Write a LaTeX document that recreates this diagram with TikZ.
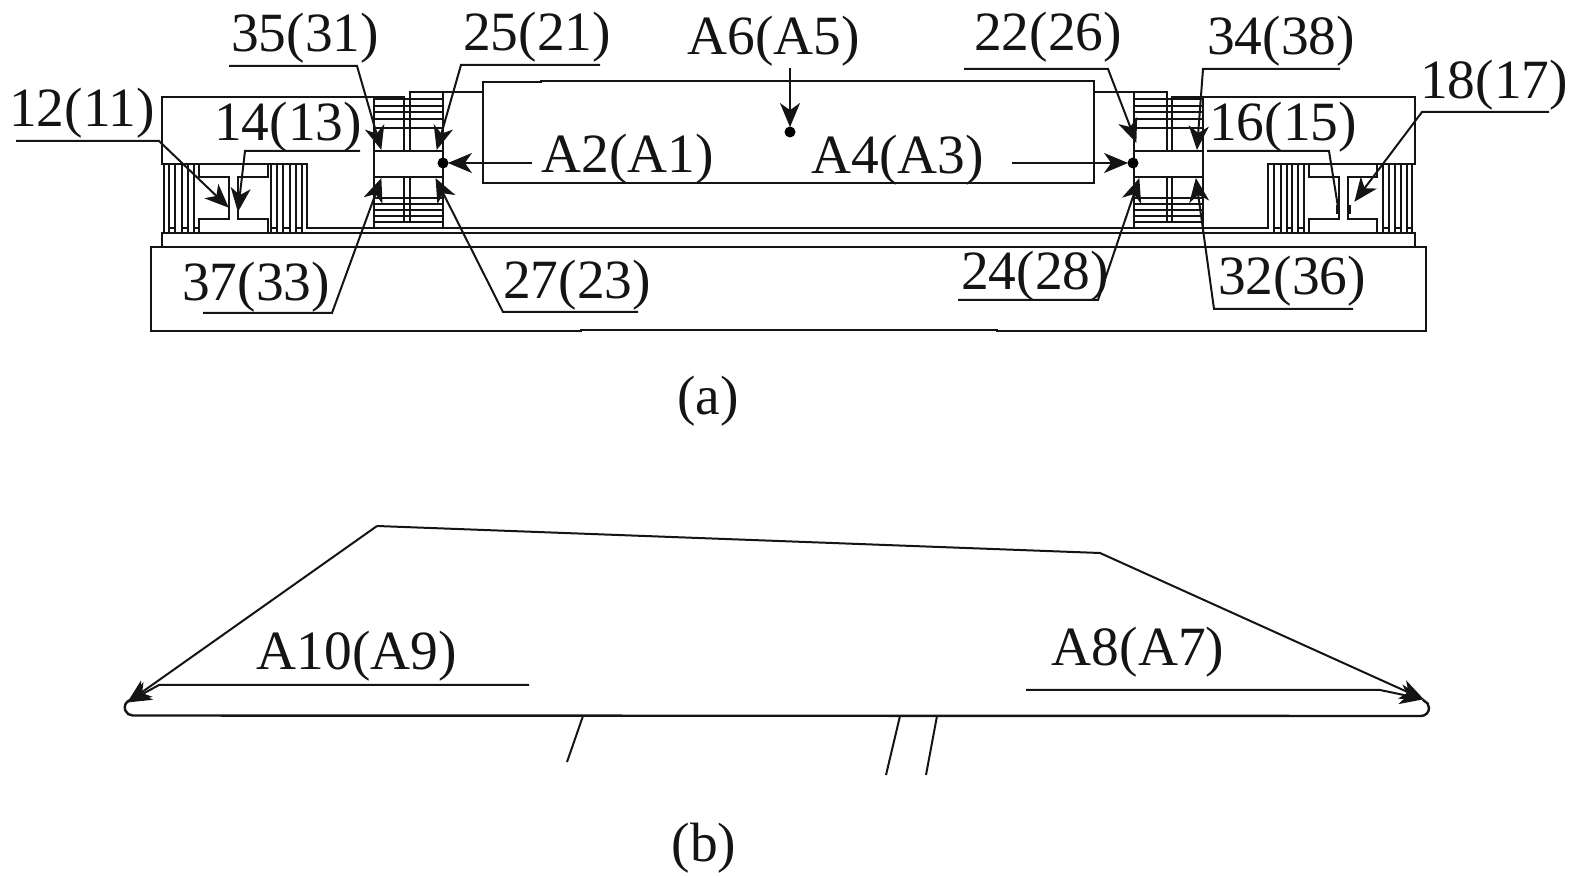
\documentclass[tikz,border=0pt]{standalone}
\usepackage{fontspec}
\setmainfont{Liberation Serif}
\usetikzlibrary{arrows.meta}
\tikzset{
  part/.style={line width=1.2pt, line cap=rect},
  leader/.style={line width=1pt, -{Stealth[length=12pt,width=10pt,inset=3.5pt]}, shorten >=-0.5pt},
  lead/.style={line width=1pt},
  lab/.style={font=\fontsize{27.7}{30}\selectfont, inner sep=0pt},
  dotmark/.style={circle, fill=black, inner sep=0pt, minimum size=5.5pt},
}
\begin{document}
\begin{tikzpicture}[x=0.5pt, y=-0.5pt, color=black!92]
  \useasboundingbox (0,0) rectangle (1575,876);

  % Base and bottom plate
  \draw[part] (151,247) -- (1426,247) -- (1426,331) -- (997,331) -- (997,330) -- (581,330) -- (581,331) -- (151,331) -- cycle;
  \draw[part] (162,247) -- (162,233) -- (1415,233) -- (1415,247);
  \draw[part] (307,228) -- (1268,228);

  % Upper plates and mover
  \draw[part] (404,97) -- (162,97) -- (162,164) -- (307,164);
  \draw[part] (1172,97) -- (1415,97) -- (1415,164) -- (1268,164);
  \draw[part] (410,92) -- (483,92);
  \draw[part] (1094,92) -- (1134,92);
  \draw[part] (483,82) -- (541,82) -- (541,81) -- (1094,81) -- (1094,183) -- (483,183) -- cycle;

  % Comb fingers, left and right
  \foreach \x in {164,169,175,182,188,194,271,277,283,290,296,302} {
    \draw[part] (\x,164) -- (\x,232);
  }
  \draw[part] (199,164) -- (199,177) (199,219) -- (199,232);
  \draw[part] (268,164) -- (268,177) (268,219) -- (268,232) (307,164) -- (307,228);
  \foreach \x in {1274,1281,1287,1292,1298,1304,1383,1389,1395,1401,1407,1412} {
    \draw[part] (\x,164) -- (\x,232);
  }
  \draw[part] (1309,164) -- (1309,177) (1309,219) -- (1309,232);
  \draw[part] (1268,164) -- (1268,228) (1377,164) -- (1377,177) (1377,219) -- (1377,232);
  \foreach \x/\y in {169/175,182/188,194/199,271/277,283/290,296/302,1274/1281,1287/1292,1298/1304,1383/1389,1395/1401,1407/1412} {
    \draw[part] (\x,228) -- (\y,228);
  }

  % I-shaped anchors
  \draw[part] (199,177) -- (229,177) -- (229,219) -- (199,219);
  \draw[part] (268,177) -- (238,177) -- (238,219) -- (268,219);
  \draw[part] (1309,177) -- (1339,177) -- (1339,219) -- (1309,219);
  \draw[part] (1377,177) -- (1348,177) -- (1348,219) -- (1377,219);
  \draw[line width=2.2pt] (1338,205) -- (1338,214) (1349,205) -- (1349,214);

  % Left stack
  \draw[part] (374,97) -- (374,228) (443,92) -- (443,228);
  \draw[part] (374,151) rectangle (443,177);
  \foreach \y in {99,106,112,119,128,198,204,210,216,222} {
    \draw[part] (374,\y) -- (443,\y);
  }
  \draw[part] (404,97) -- (404,151) (410,92) -- (410,151) (404,177) -- (404,222) (410,177) -- (410,222);

  % Right stack
  \draw[part] (1134,92) -- (1134,228) (1203,97) -- (1203,233);
  \draw[part] (1134,151) rectangle (1203,177);
  \foreach \y in {99,106,112,119,128,198,204,210,216,222} {
    \draw[part] (1134,\y) -- (1203,\y);
  }
  \draw[part] (1134,92) -- (1167,92) -- (1167,151) (1172,97) -- (1172,151) (1167,177) -- (1167,222) (1172,177) -- (1172,222);

  % Labels of (a)
  \node[lab] (n35) at (305,38) {35(31)};
  \node[lab] (n25) at (537,37) {25(21)};
  \node[lab] (n12) at (82,113) {12(11)};
  \node[lab] (n14) at (288,127) {14(13)};
  \node[lab] (n37) at (256,287) {37(33)};
  \node[lab] (n27) at (577,285) {27(23)};
  \node[lab] (n22) at (1048,37) {22(26)};
  \node[lab] (n34) at (1281,41) {34(38)};
  \node[lab] (n18) at (1494,85) {18(17)};
  \node[lab] (n16) at (1283,127) {16(15)};
  \node[lab] (n32) at (1292,281) {32(36)};
  \node[lab] (n24) at (1035,276) {24(28)};
  \node[lab] (nA2) at (628,159) {A2(A1)};
  \node[lab] (nA4) at (898,160) {A4(A3)};
  \node[lab] (nA6) at (774,41) {A6(A5)};
  \node[lab] (fa) at (708,401) {(a)};
  \node[lab] (fb) at (704,848) {(b)};

  % Dots
  \node[dotmark] (d2) at (443,163) {};
  \node[dotmark] (d4) at (1133,163) {};
  \node[dotmark] (d6) at (790,132) {};
  \coordinate (s2) at (532,163);
  \coordinate (s4) at (1012,163);
  \coordinate (s6) at (790,68);
  \draw[leader] (s2) -- (d2);
  \draw[leader] (s4) -- (d4);
  \draw[leader] (s6) -- (d6);

  % Leaders of (a)
  \coordinate (a35) at (229,66);   \coordinate (b35) at (357,66);   \coordinate (c35) at (381,149);
  \coordinate (a25) at (600,65);   \coordinate (b25) at (461,65);   \coordinate (c25) at (437,149);
  \coordinate (a12) at (16,141);   \coordinate (b12) at (159,141);  \coordinate (c12) at (228,207);
  \coordinate (a14) at (360,151);  \coordinate (b14) at (245,151);  \coordinate (c14) at (238,211);
  \coordinate (a37) at (203,313);  \coordinate (b37) at (332,313);  \coordinate (c37) at (381,179);
  \coordinate (a27) at (638,312);  \coordinate (b27) at (503,312);  \coordinate (c27) at (436,179);
  \coordinate (a22) at (964,69);   \coordinate (b22) at (1108,69);  \coordinate (c22) at (1136,142);
  \coordinate (a34) at (1340,69);  \coordinate (b34) at (1203,69);  \coordinate (c34) at (1197,149);
  \coordinate (a18) at (1549,112); \coordinate (b18) at (1422,112); \coordinate (c18) at (1355,201);
  \coordinate (a32) at (1353,309); \coordinate (b32) at (1214,309); \coordinate (c32) at (1196,179);
  \coordinate (a24) at (958,300);  \coordinate (b24) at (1098,300); \coordinate (c24) at (1139,179);
  \foreach \k in {35,25,12,14,37,27,22,34,18,32,24} {
    \draw[leader] (a\k) -- (b\k) -- (c\k);
  }
  \coordinate (a16) at (1207,151); \coordinate (b16) at (1329,151); \coordinate (c16) at (1338,207);
  \draw[lead] (a16) -- (b16) -- (c16);

  % Part (b)
  \node[lab] (nA10) at (357,656) {A10(A9)};
  \node[lab] (nA8) at (1138,652) {A8(A7)};
  \coordinate (bl) at (133,716);
  \coordinate (br) at (1421,716);
  \draw[part] (130,700) arc (250:90:8) -- (br) arc (90:-70:8);
  \coordinate (tl) at (128,702);
  \coordinate (p1) at (377,526);
  \coordinate (p2) at (1100,553);
  \coordinate (tr) at (1423,699);
  \draw[leader] (p1) -- (tl);
  \draw[leader] (p1) -- (p2) -- (tr);
  \coordinate (a10) at (529,685);  \coordinate (b10) at (159,685);
  \draw[leader] (a10) -- (b10) -- (tl);
  \coordinate (a8) at (1026,690);  \coordinate (b8) at (1380,690);
  \draw[leader] (a8) -- (b8) -- (tr);
  \coordinate (k1a) at (583,716);  \coordinate (k1b) at (567,762);
  \coordinate (k2a) at (900,716);  \coordinate (k2b) at (886,775);
  \coordinate (k3a) at (937,716);  \coordinate (k3b) at (926,775);
  \draw[lead] (k1a) -- (k1b) (k2a) -- (k2b) (k3a) -- (k3b);
\end{tikzpicture}
\end{document}
